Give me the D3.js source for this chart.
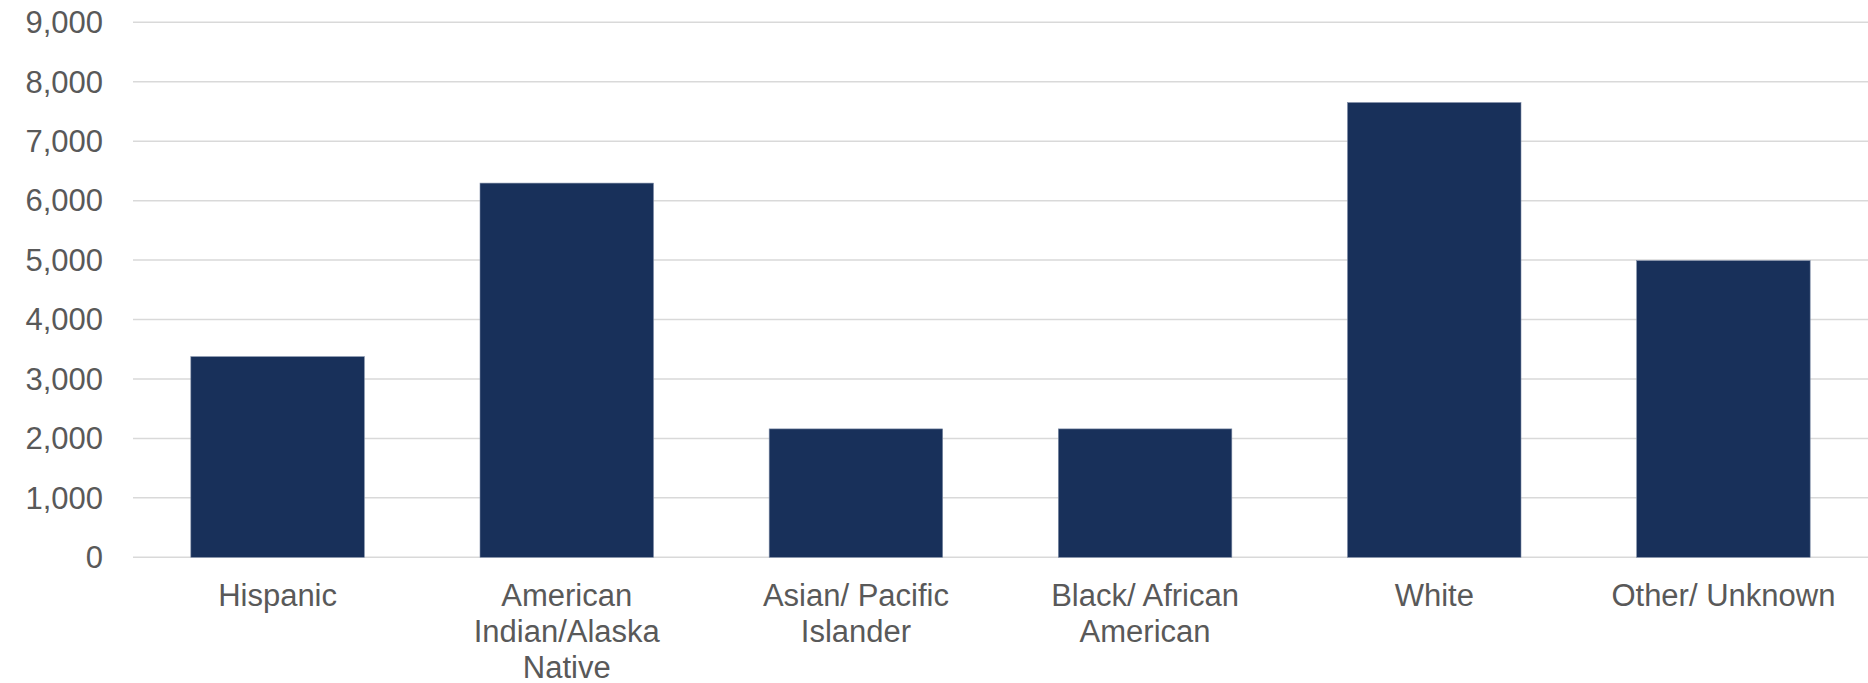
<!DOCTYPE html>
<html>
<head>
<meta charset="utf-8">
<script src="https://cdn.jsdelivr.net/npm/d3@7"></script>
<style>
  html, body { margin: 0; padding: 0; background: #fff; overflow: hidden; }
  svg { display: block; }
  text { font-family: "Liberation Sans", Arial, sans-serif; fill: #595959; }
</style>
</head>
<body>
<div id="chart"></div>
<script>
// Data
const categories = ["Hispanic", "American Indian/Alaska Native", "Asian/ Pacific Islander",
                    "Black/ African American", "White", "Other/ Unknown"];
const labelLines = [
  ["Hispanic"],
  ["American", "Indian/Alaska", "Native"],
  ["Asian/ Pacific", "Islander"],
  ["Black/ African", "American"],
  ["White"],
  ["Other/ Unknown"]
];
const values = [3375, 6295, 2160, 2160, 7650, 4990];
const yTicks = [0, 1000, 2000, 3000, 4000, 5000, 6000, 7000, 8000, 9000];

const W = 1868, H = 683;
const plotLeft = 133, plotRight = 1868, plotTop = 22.3, plotBottom = 557.3;

const svg = d3.select("#chart").append("svg")
  .attr("width", W).attr("height", H);

const x = d3.scaleBand().domain(categories).range([plotLeft, plotRight])
  .paddingInner(0.4).paddingOuter(0.2);
const y = d3.scaleLinear().domain([0, 9000]).range([plotBottom, plotTop]);

// Gridlines
svg.append("g")
  .selectAll("line").data(yTicks).join("line")
  .attr("x1", plotLeft).attr("x2", plotRight)
  .attr("y1", d => y(d)).attr("y2", d => y(d))
  .attr("stroke", "#d9d9d9").attr("stroke-width", 1.5);

// Y tick labels
svg.append("g")
  .selectAll("text").data(yTicks).join("text")
  .attr("x", 103).attr("y", d => y(d)).attr("dy", "0.35em")
  .attr("text-anchor", "end")
  .style("font-size", "31px")
  .text(d3.format(","));

// Bars
svg.append("g")
  .selectAll("rect").data(values).join("rect")
  .attr("x", (d, i) => x(categories[i]))
  .attr("width", x.bandwidth())
  .attr("y", d => y(d))
  .attr("height", d => y(0) - y(d))
  .attr("fill", "#18305a")
  .attr("stroke", "#7d8ba5").attr("stroke-width", 0.6);

// X labels, wrapped as in the reference
const xl = svg.append("g").selectAll("text").data(categories).join("text")
  .attr("x", d => x(d) + x.bandwidth() / 2)
  .attr("y", plotBottom + 49)
  .attr("text-anchor", "middle")
  .style("font-size", "31px");
xl.each(function(d, i) {
  const t = d3.select(this);
  labelLines[i].forEach((ln, j) => {
    t.append("tspan").attr("x", x(d) + x.bandwidth() / 2)
      .attr("dy", j === 0 ? 0 : 35.7).text(ln);
  });
});
</script>
</body>
</html>
